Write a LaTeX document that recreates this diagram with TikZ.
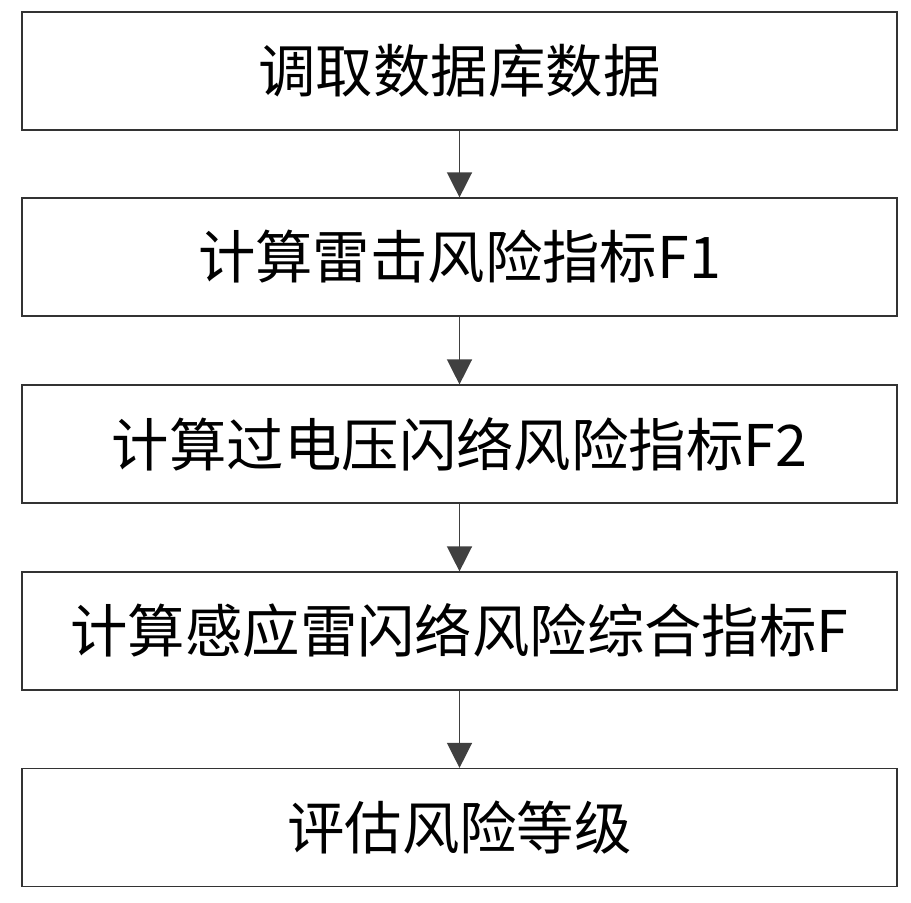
\documentclass[tikz,border=0pt]{standalone}
\usepackage{fontspec}
\newfontfamily\cjk{Noto Sans CJK SC}
\usetikzlibrary{arrows.meta, positioning}
\begin{document}
\begin{tikzpicture}[x=0.03cm, y=-0.03cm,
  stepbox/.style={draw=black!80, line width=1pt, minimum width=26.25cm, minimum height=3.54cm,
    font=\cjk\fontsize{49}{52}\selectfont, inner sep=0pt},
  flow/.style={draw=black!75, line width=1.2pt, -{Triangle[length=0.75cm, width=0.75cm]}}]
\useasboundingbox (0,0) rectangle (911,903);
% steps
\node[stepbox] (fetch) at (459.5,71) {调取数据库数据};
\node[stepbox] (fone) at (459.5,257) {计算雷击风险指标F1};
\node[stepbox] (ftwo) at (459.5,444) {计算过电压闪络风险指标F2};
\node[stepbox] (ftot) at (459.5,631) {计算感应雷闪络风险综合指标F};
\node[stepbox] (grade) at (459.5,827.5) {评估风险等级};
% arrows
\draw[flow] (fetch) -- (fone);
\draw[flow] (fone) -- (ftwo);
\draw[flow] (ftwo) -- (ftot);
\draw[flow] (ftot) -- (grade);
\end{tikzpicture}
\end{document}
